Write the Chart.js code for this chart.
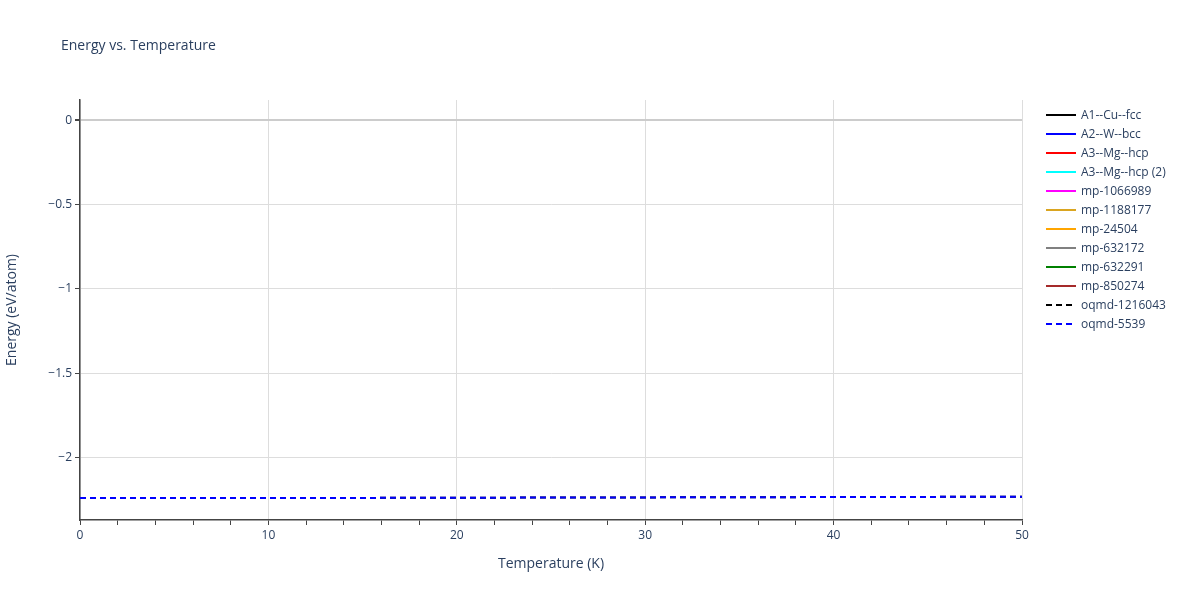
<!DOCTYPE html>
<html><head><meta charset="utf-8">
<script src="https://cdn.jsdelivr.net/npm/chart.js@4"></script>
<style>
body{margin:0;width:1200px;height:600px;position:relative;background:#fff;font-family:"Open Sans",sans-serif;color:#444}
#title{position:absolute;left:61px;top:35px;font-size:14px;color:#2a3f5f}
#legend{position:absolute;left:1046px;top:105px;font-size:12px;color:#2a3f5f}
.li{height:19px;display:flex;align-items:center}
.li svg{margin-right:5px}
</style></head><body>
<canvas id="c" width="1200" height="600"></canvas>
<div id="title">Energy vs. Temperature</div>
<div id="legend"></div>
<script>
const temperatures=[0,5,10,15,20,25,30,35,40,45,50];
const oqmd5539=[-2.240,-2.240,-2.239,-2.239,-2.238,-2.237,-2.236,-2.235,-2.234,-2.233,-2.232];
const oqmd1216043=[-2.240,-2.240,-2.239,-2.239,-2.238,-2.237,-2.236,-2.235,-2.234,-2.233,-2.232];
const seriesNames=["A1--Cu--fcc","A2--W--bcc","A3--Mg--hcp","A3--Mg--hcp (2)","mp-1066989","mp-1188177","mp-24504","mp-632172","mp-632291","mp-850274","oqmd-1216043","oqmd-5539"];
const seriesColors=["black","blue","red","cyan","magenta","#DAA520","orange","gray","green","brown","black","blue"];
const seriesDashed=[false,false,false,false,false,false,false,false,false,false,true,true];
const seriesData={"oqmd-1216043":oqmd1216043,"oqmd-5539":oqmd5539};

const datasets=seriesNames.map((n,i)=>({label:n,order:seriesNames.length-i,borderColor:seriesColors[i],backgroundColor:seriesColors[i],borderWidth:2,pointRadius:0,borderDash:seriesDashed[i]?[6,4]:[],
 data:(seriesData[n]||[]).map((v,j)=>({x:temperatures[j],y:v}))}));

const leg=document.getElementById('legend');
seriesNames.forEach((n,i)=>{leg.innerHTML+=`<div class="li"><svg width="30" height="4"><line x1="0" y1="2" x2="30" y2="2" stroke="${seriesColors[i]}" stroke-width="2" ${seriesDashed[i]?'stroke-dasharray="6,4"':''}/></svg>${n}</div>`;});

new Chart(document.getElementById('c'),{type:'line',data:{datasets},
options:{responsive:false,animation:false,layout:{padding:{top:100,right:178,left:0,bottom:24}},
plugins:{legend:{display:false},tooltip:{enabled:false}},
scales:{
 x:{type:'linear',min:0,max:50,
  afterFit:s=>{s.height=56},
  afterBuildTicks:s=>{s.ticks=[];for(let v=0;v<=50;v+=2)s.ticks.push({value:v});for(let v=0;v<=50;v+=10)if(v%2)s.ticks.push({value:v});s.ticks.sort((a,b)=>a.value-b.value)},
  ticks:{autoSkip:false,maxRotation:0,color:'#2a3f5f',font:{size:12,family:'Open Sans'},callback:v=>v%10===0?v:''},
  grid:{color:c=>c.tick&&c.tick.value%10===0?'#ddd':'rgba(0,0,0,0)',tickColor:'#444',tickLength:5,drawOnChartArea:true},
  border:{color:'#444',width:1.5},
  title:{display:true,text:'Temperature (K)',color:'#2a3f5f',font:{size:14,family:'Open Sans'},padding:{top:10}}},
 y:{type:'linear',min:-2.37,max:0.12,
  afterFit:s=>{s.width=80},
  afterBuildTicks:s=>{s.ticks=[];for(let k=-4;k<=0;k++)s.ticks.push({value:k/2})},
  ticks:{autoSkip:false,color:'#2a3f5f',font:{size:12,family:'Open Sans'},callback:v=>v===0?'0':String(v).replace('-','\u2212')},
  grid:{color:c=>c.tick&&c.tick.value===0?'#ccc':'#ddd',lineWidth:c=>c.tick&&c.tick.value===0?2:1,tickColor:'#444',tickLength:5},
  border:{color:'#444',width:1.5},
  title:{display:true,text:'Energy (eV/atom)',color:'#2a3f5f',font:{size:14,family:'Open Sans'}}}
}}});
</script></body></html>
